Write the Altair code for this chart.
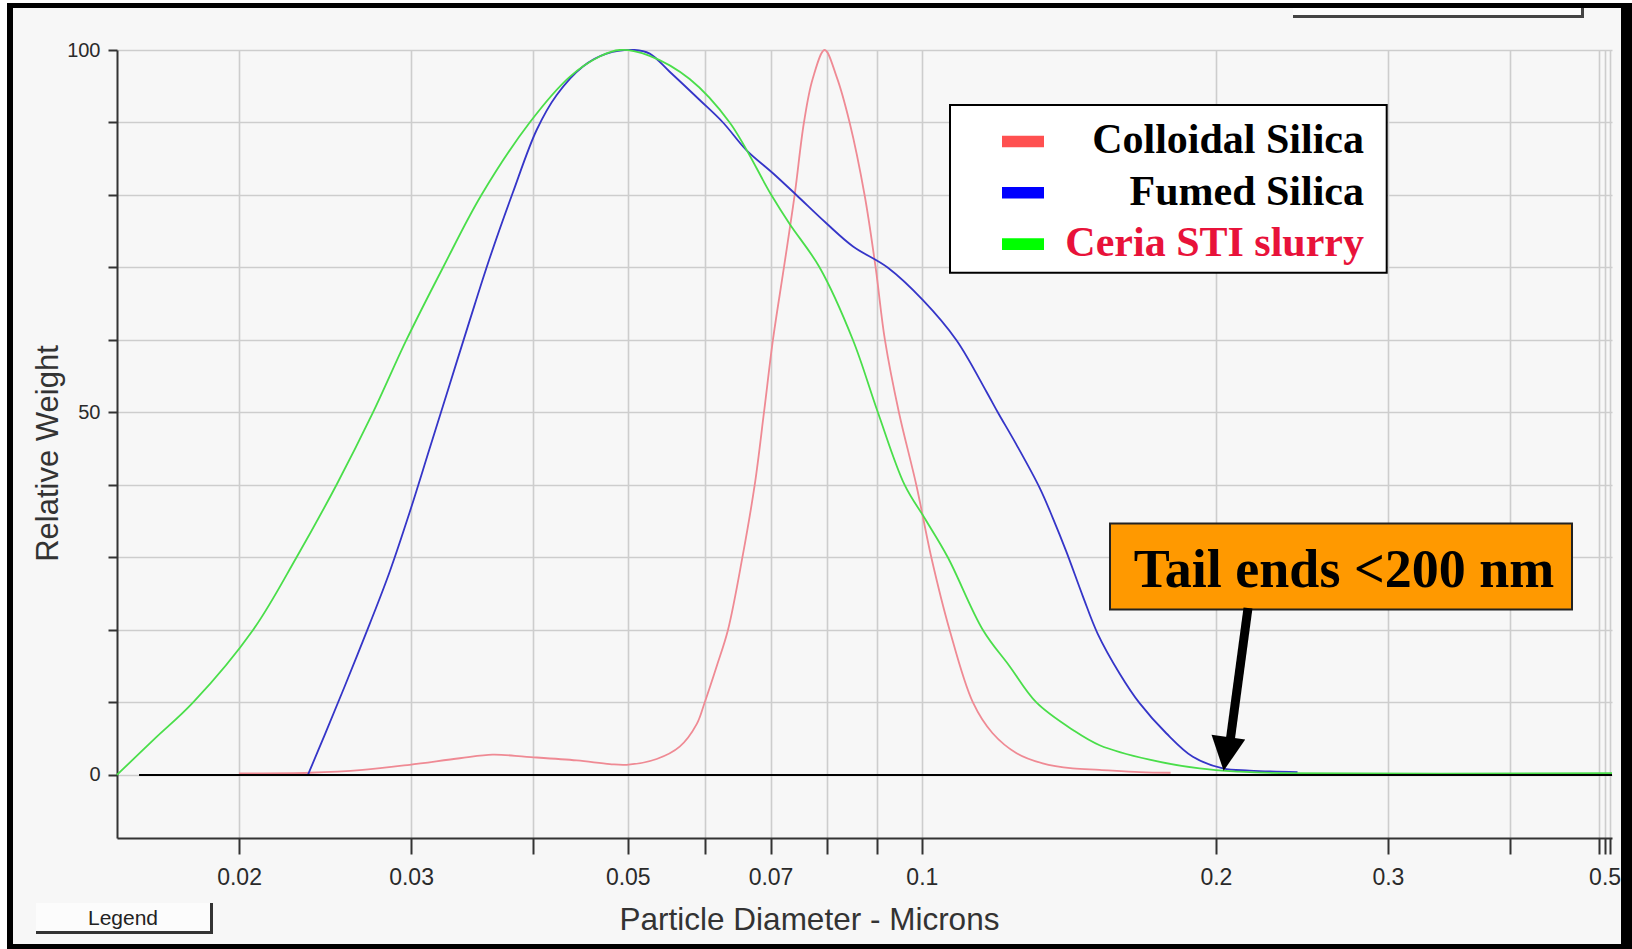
import altair as alt
import pandas as pd

# Particle size distributions: diameter (microns) and relative weight (%)
colloidal_x = [0.02000, 0.02362, 0.02677, 0.02990, 0.03365, 0.03637, 0.03940, 0.04434, 0.04792, 0.04987,
               0.05353, 0.05651, 0.05882, 0.05994, 0.06166, 0.06332, 0.06551, 0.06744, 0.06893, 0.07040,
               0.07225, 0.07410, 0.07574, 0.07731, 0.07953, 0.08181, 0.08435, 0.08738, 0.08968, 0.09167,
               0.09475, 0.09871, 0.10227, 0.10677, 0.11280, 0.11816, 0.12503, 0.13296, 0.14269, 0.15206,
               0.16708, 0.17974]
colloidal_y = [0.2, 0.3, 0.7, 1.4, 2.3, 2.8, 2.5, 2.0, 1.5, 1.4,
               2.2, 3.9, 7.0, 10.0, 15.0, 20.0, 30.0, 40.0, 50.0, 60.0,
               70.0, 80.0, 90.0, 96.0, 100.0, 96.3, 90.0, 80.0, 70.0, 60.0,
               50.0, 40.0, 30.0, 20.0, 10.0, 5.75, 3.0, 1.6, 0.9, 0.7,
               0.4, 0.3]

fumed_x = [0.023525, 0.024470, 0.025652, 0.027209, 0.028521, 0.029896, 0.031337, 0.032848, 0.034431, 0.036092,
           0.038128, 0.040345, 0.042289, 0.044955, 0.047571, 0.050812, 0.052654, 0.055193, 0.059238, 0.062580,
           0.066128, 0.070404, 0.074400, 0.079847, 0.085033, 0.092257, 0.10026, 0.10847, 0.11642, 0.11964,
           0.12494, 0.13202, 0.13612, 0.14059, 0.14621, 0.15134, 0.15938, 0.16708, 0.17793, 0.18943,
           0.20335, 0.21650, 0.24245]
fumed_y = [0.0, 5.5, 12.2, 20.8, 28.0, 36.2, 45.0, 53.8, 62.6, 71.2,
           80.3, 89.0, 93.8, 97.7, 99.5, 100.0, 99.5, 97.0, 93.1, 90.0,
           86.2, 83.0, 80.0, 76.1, 72.9, 70.0, 65.5, 60.0, 52.9, 50.0,
           45.6, 39.6, 35.5, 30.8, 24.6, 19.5, 14.0, 9.9, 5.75, 2.5,
           0.9, 0.6, 0.4]

ceria_x = [0.014996, 0.016396, 0.017948, 0.020671, 0.022898, 0.025161, 0.027427, 0.029674, 0.032347, 0.035411,
           0.039680, 0.043604, 0.046798, 0.049056, 0.052649, 0.057855, 0.063576, 0.070138, 0.073233, 0.078596,
           0.085012, 0.090168, 0.096028, 0.10090, 0.10634, 0.11549, 0.12298, 0.13100, 0.14280, 0.15206,
           0.17105, 0.19245, 0.21148, 0.23241, 0.5088]
ceria_y = [0.0, 5.0, 10.0, 20.0, 30.0, 40.0, 50.0, 60.0, 70.0, 80.0,
           90.0, 96.3, 99.1, 100.0, 99.2, 96.0, 90.0, 80.0, 76.0, 70.0,
           60.0, 50.0, 40.0, 35.2, 30.0, 20.0, 15.0, 10.0, 6.2, 4.1,
           2.1, 0.9, 0.45, 0.25, 0.25]

series_names = ["Colloidal Silica", "Fumed Silica", "Ceria STI slurry"]
curve_colors = ["#ef8a94", "#3535c8", "#4ade4a"]
swatch_colors = ["#ff5050", "#0000ff", "#00ff00"]
legend_text_colors = ["#000000", "#000000", "#e8123a"]

x_ticks = [0.02, 0.03, 0.04, 0.05, 0.06, 0.07, 0.08, 0.09, 0.1, 0.2, 0.3, 0.4, 0.494, 0.5, 0.507]
x_labelled = [0.02, 0.03, 0.05, 0.07, 0.1, 0.2, 0.3, 0.5]
x_labels = ["0.02", "0.03", "0.05", "0.07", "0.1", "0.2", "0.3", "0.5"]
y_ticks = [0, 10, 20, 30, 40, 50, 60, 70, 80, 90, 100]
y_labelled = [0, 50, 100]

baseline_x = [0.0158, 0.5088]
annotation_text = "Tail ends <200 nm"

# ---------------------------------------------------------------- layout
W, H = 1495, 788
PAD = {"left": 117, "top": 50, "right": 20, "bottom": 111}
SANS = "Liberation Sans, Arial"
SERIF = "Liberation Serif, Times New Roman, serif"

rows = []
for name, xs, ys in zip(series_names, [colloidal_x, fumed_x, ceria_x],
                        [colloidal_y, fumed_y, ceria_y]):
    for i, (a, b) in enumerate(zip(xs, ys)):
        rows.append({"series": name, "d": a, "w": b, "i": i})
curves_df = pd.DataFrame(rows)

x_scale = alt.Scale(type="log", domain=[0.015, 0.5088], nice=False)
y_scale = alt.Scale(domain=[-8.7, 100], nice=False, zero=False)

x_label_expr = (f"indexof({x_labelled}, datum.value) < 0 ? '' : "
                f"{x_labels}[indexof({x_labelled}, datum.value)]")
y_label_expr = f"indexof({y_labelled}, datum.value) < 0 ? '' : datum.label"

x_axis = alt.Axis(
    values=x_ticks, labelExpr=x_label_expr, grid=True,
    gridColor="#cdcdcd", gridWidth=1.6,
    tickSize=16, tickWidth=2, tickColor="#333333",
    domainColor="#333333", domainWidth=2,
    labelFont=SANS, labelFontSize=23, labelColor="#2a2a2a",
    labelPadding=12, labelFlush=False, labelOverlap=False,
    title="Particle Diameter - Microns", titleFont=SANS, titleFontSize=31.5,
    titleFontWeight="normal", titleColor="#333333",
    titleX=692, titleY=91, titleAlign="center", titleBaseline="alphabetic",
)
y_axis = alt.Axis(
    values=y_ticks, labelExpr=y_label_expr, grid=True,
    gridColor="#cdcdcd", gridWidth=1.6,
    tickSize=9, tickWidth=2, tickColor="#333333",
    domainColor="#333333", domainWidth=2,
    labelFont=SANS, labelFontSize=20, labelColor="#2a2a2a",
    labelPadding=8, labelOverlap=False,
    title="Relative Weight", titleFont=SANS, titleFontSize=31,
    titleFontWeight="normal", titleColor="#333333", titleAngle=270,
    titleX=-60, titleY=403, titleAlign="center", titleBaseline="alphabetic",
)

curves = alt.Chart(curves_df).mark_line(strokeWidth=1.8, interpolate="catmull-rom").encode(
    x=alt.X("d:Q", scale=x_scale, axis=x_axis),
    y=alt.Y("w:Q", scale=y_scale, axis=y_axis),
    color=alt.Color("series:N", scale=alt.Scale(domain=series_names, range=curve_colors),
                    legend=None),
    detail="series:N",
    order="i:Q",
)

baseline = alt.Chart(pd.DataFrame({"d": [baseline_x[0]], "d2": [baseline_x[1]], "w": [0]})).mark_rule(
    color="#000000", strokeWidth=2
).encode(x="d:Q", x2="d2:Q", y="w:Q")


def box(x0, x1, y0, y1, **style):
    return alt.Chart().mark_rect(**style).encode(
        x=alt.value(x0), x2=alt.value(x1), y=alt.value(y0), y2=alt.value(y1))


def label(x, y, text, **style):
    return alt.Chart().mark_text(text=text, **style).encode(x=alt.value(x), y=alt.value(y))


layers = [curves, baseline]

# legend panel
layers.append(box(833, 1269.7, 55, 222.7, fill="#ffffff", stroke="#000000", strokeWidth=2))
for k, (name, sw, tc) in enumerate(zip(series_names, swatch_colors, legend_text_colors)):
    dy = 51.3 * k
    layers.append(box(885, 927, 85.7 + dy, 97.3 + dy, fill=sw))
    layers.append(label(1247, 103.3 + dy, name, align="right", baseline="alphabetic",
                        font=SERIF, fontSize=42, fontWeight="bold", color=tc))

# annotation for the distribution tail
layers.append(box(993, 1455, 473.5, 559.5, fill="#ff9900", stroke="#222222", strokeWidth=2))
layers.append(label(1227, 536.5, annotation_text, align="center", baseline="alphabetic",
                    font=SERIF, fontSize=54, fontWeight="bold", color="#000000"))
layers.append(alt.Chart().mark_rule(color="#000000", strokeWidth=9).encode(
    x=alt.value(1131), y=alt.value(558), x2=alt.value(1113), y2=alt.value(692)))
layers.append(alt.Chart().mark_point(shape="M-1,-1L1,-1L0,1Z", filled=True, size=1156,
                                     angle=8, color="#000000", opacity=1).encode(
    x=alt.value(1109), y=alt.value(704)))

# window frame and button remnants
layers += [
    box(-117, -110, -50, 899, fill="#ffffff"),
    box(-117, 1515, -50, -47, fill="#ffffff"),
    box(-110, -104, -47, 899, fill="#000000"),
    box(-110, 1515, -47, -42, fill="#000000"),
    box(1504, 1515, -47, 899, fill="#000000"),
    box(-110, 1515, 894, 899, fill="#000000"),
    box(1176, 1467, -42, -35, fill="#fcfcfc"),
    box(1176, 1467, -35, -32, fill="#444444"),
    box(1464, 1467, -42, -32, fill="#444444"),
    box(-81, 96, 853, 884, fill="#fcfcfc"),
    box(-81, 96, 881, 884, fill="#333333"),
    box(93, 96, 853, 884, fill="#333333"),
    label(6, 869, "Legend", align="center", baseline="middle", font=SANS,
          fontSize=21, color="#222222"),
]

chart = alt.layer(*layers).properties(
    width=W, height=H, padding=PAD,
    autosize=alt.AutoSizeParams(type="none"),
    background="#f7f7f7",
).configure_view(stroke="transparent")

chart.save("out.html", embed_options={"renderer": "svg", "actions": False})
